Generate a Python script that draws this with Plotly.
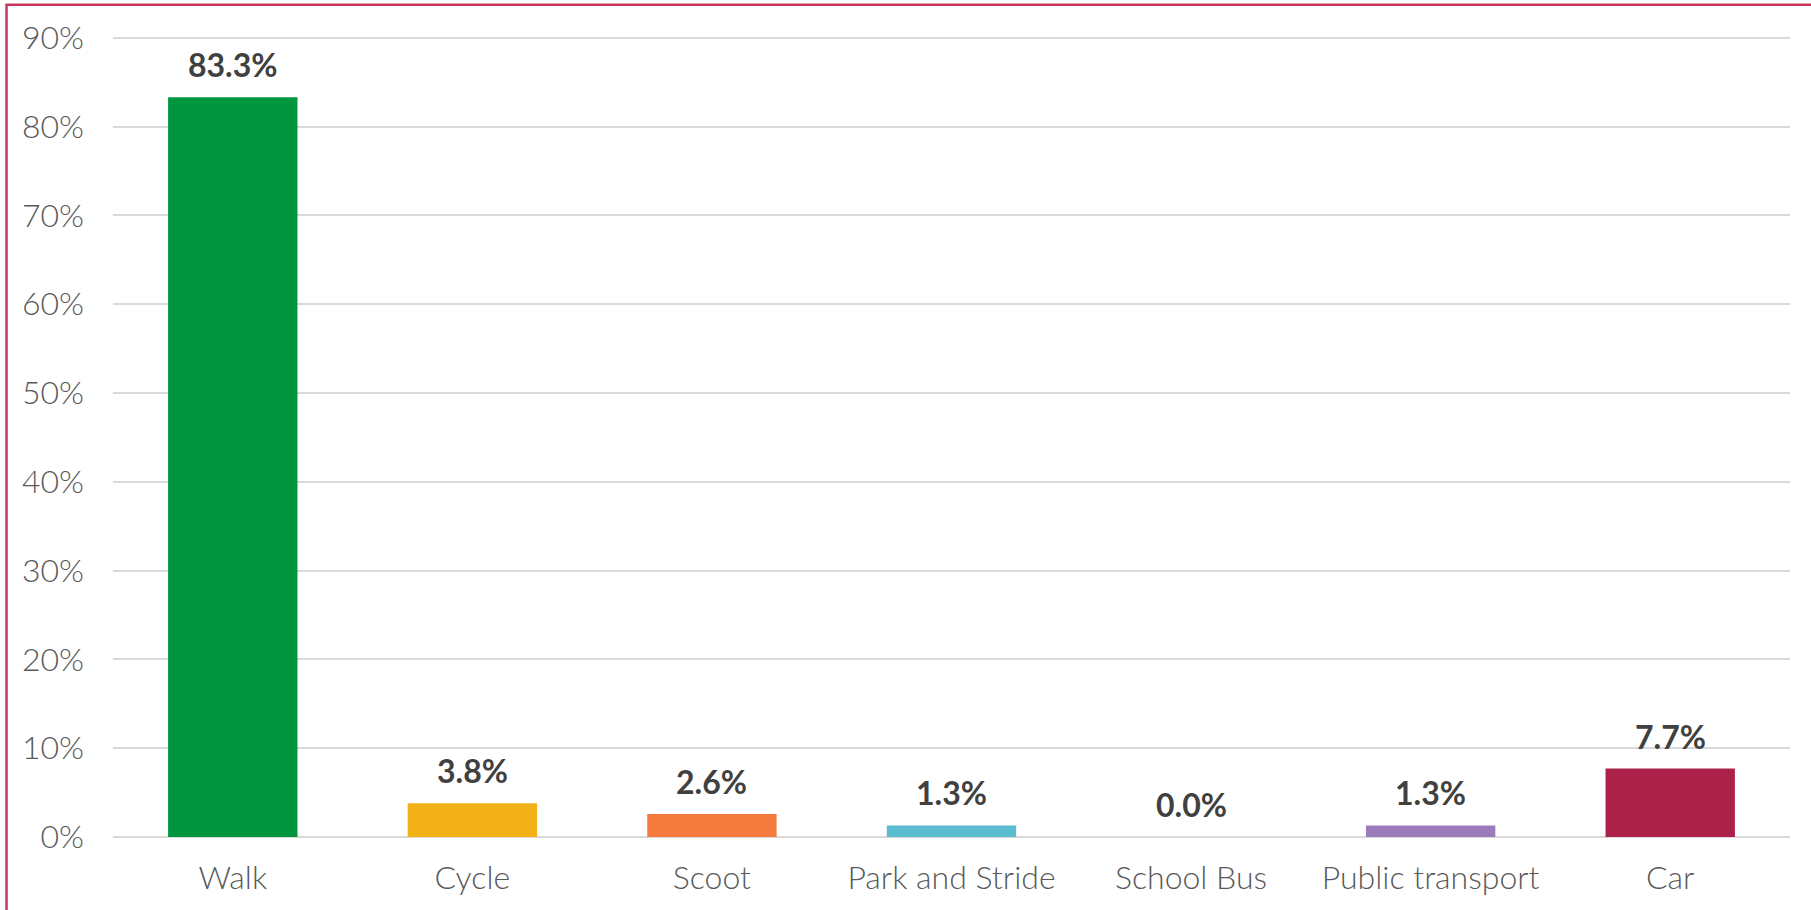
import plotly.graph_objects as go

# travel mode shares (percent)
modes = ["Walk", "Cycle", "Scoot", "Park and Stride", "School Bus", "Public transport", "Car"]
shares = [83.3, 3.8, 2.6, 1.3, 0.0, 1.3, 7.7]
bar_colors = ["#00963F", "#F2B117", "#F47A3E", "#5BBCD0", "#8FA9D8", "#9B7BBA", "#AB214A"]
y_ticks = [0, 10, 20, 30, 40, 50, 60, 70, 80, 90]
y_tick_text = ["%d%%" % t for t in y_ticks]

font_name = "Lato"

fig = go.Figure()
fig.add_trace(go.Bar(
    x=modes,
    y=shares,
    marker=dict(color=bar_colors, line=dict(width=0)),
    width=0.54,
    hoverinfo="x+y",
))

# value labels above bars
for m, v in zip(modes, shares):
    fig.add_annotation(
        x=m, y=v, text="<b>%.1f%%</b>" % v,
        showarrow=False, yanchor="bottom", yshift=11,
        font=dict(family=font_name, size=32, color="#404040"),
    )

# outer frame, as in the original export
fig.add_shape(
    type="rect", xref="paper", yref="paper",
    x0=-0.0635, x1=1.1, y0=-0.3, y1=1.039,
    line=dict(color="#C8375E", width=2.5),
    fillcolor="rgba(0,0,0,0)", layer="below",
)

fig.update_layout(
    width=1811, height=910,
    margin=dict(l=113, r=21, t=36, b=73),
    paper_bgcolor="white",
    plot_bgcolor="white",
    showlegend=False,
    font=dict(family=font_name, color="#595959"),
    xaxis=dict(
        tickfont=dict(size=32, color="#595959", weight=300),
        showgrid=False,
        showline=False,
        ticklabelstandoff=19,
    ),
    yaxis=dict(
        range=[0, 90.2],
        tickvals=y_ticks,
        ticktext=y_tick_text,
        tickfont=dict(size=32, color="#595959", weight=300),
        showgrid=True,
        gridcolor="#D9D9D9",
        gridwidth=2,
        zeroline=True,
        zerolinecolor="#D9D9D9",
        zerolinewidth=2,
        ticklabelstandoff=28,
    ),
)

fig.write_html("out.html", config={"displayModeBar": False},
               post_script="document.body.style.margin='0';")
